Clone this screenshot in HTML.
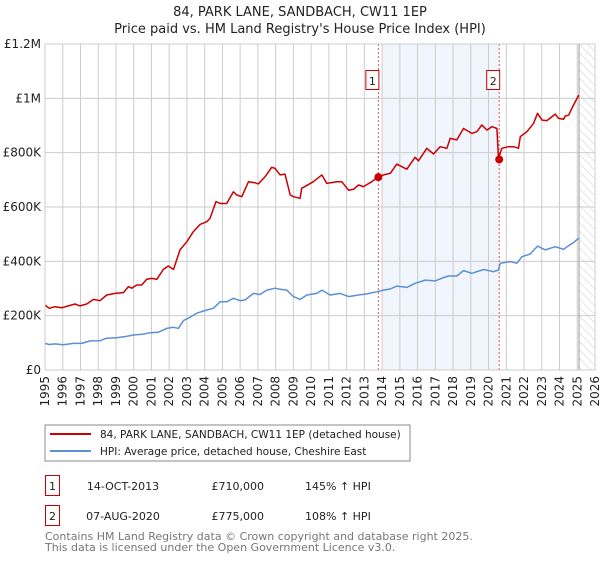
<!DOCTYPE html>
<html><head><meta charset="utf-8"><style>
body{margin:0;background:#fff;font-family:"DejaVu Sans","Liberation Sans",sans-serif;}
svg text{font-family:"DejaVu Sans","Liberation Sans",sans-serif;}
</style></head><body>
<svg id="c" width="600" height="560" xmlns="http://www.w3.org/2000/svg">
<defs><pattern id="hatch" width="6" height="6" patternUnits="userSpaceOnUse" patternTransform="rotate(-45)"><line x1="0" y1="0" x2="0" y2="6" stroke="#ccc" stroke-width="1"/></pattern></defs>
<text x="300" y="16" text-anchor="middle" font-size="13" fill="#222">84, PARK LANE, SANDBACH, CW11 1EP</text>
<text x="300" y="33" text-anchor="middle" font-size="13" fill="#222">Price paid vs. HM Land Registry's House Price Index (HPI)</text>
<g id="plot"></g>
<rect x="45" y="425" width="365" height="36" fill="#fff" stroke="#888"/>
<line x1="50" y1="434" x2="91" y2="434" stroke="#cc0000" stroke-width="2"/>
<text x="100" y="438" font-size="10.5" fill="#222">84, PARK LANE, SANDBACH, CW11 1EP (detached house)</text>
<line x1="50" y1="451" x2="91" y2="451" stroke="#5b8fd6" stroke-width="2"/>
<text x="100" y="455" font-size="10.5" fill="#222">HPI: Average price, detached house, Cheshire East</text>
<rect x="45.5" y="475.5" width="14" height="20" fill="#fff" stroke="#cc0000"/>
<text x="52.5" y="490" text-anchor="middle" font-size="11" fill="#222">1</text>
<text x="123" y="490" text-anchor="middle" font-size="11" fill="#222">14-OCT-2013</text>
<text x="264" y="490" text-anchor="end" font-size="11" fill="#222">£710,000</text>
<text x="305" y="490" font-size="11" fill="#222">145% ↑ HPI</text>
<rect x="45.5" y="505.5" width="14" height="20" fill="#fff" stroke="#cc0000"/>
<text x="52.5" y="520" text-anchor="middle" font-size="11" fill="#222">2</text>
<text x="123" y="520" text-anchor="middle" font-size="11" fill="#222">07-AUG-2020</text>
<text x="264" y="520" text-anchor="end" font-size="11" fill="#222">£775,000</text>
<text x="305" y="520" font-size="11" fill="#222">108% ↑ HPI</text>
<text x="45" y="540" font-size="11" fill="#777">Contains HM Land Registry data © Crown copyright and database right 2025.</text>
<text x="45" y="551" font-size="11" fill="#777">This data is licensed under the Open Government Licence v3.0.</text>
</svg>
<script>
const redYears=[1995.00,1995.24,1995.56,1995.94,1996.32,1996.69,1996.97,1997.35,1997.73,1998.10,1998.48,1998.95,1999.42,1999.70,1999.89,2000.17,2000.45,2000.73,2001.02,2001.30,2001.67,2001.95,2002.24,2002.61,2002.99,2003.36,2003.74,2004.12,2004.30,2004.64,2004.87,2005.24,2005.62,2005.81,2006.09,2006.47,2006.84,2007.03,2007.41,2007.78,2007.97,2008.25,2008.53,2008.82,2009.00,2009.38,2009.47,2010.13,2010.60,2010.88,2011.45,2011.73,2012.11,2012.39,2012.67,2012.95,2013.42,2013.74,2014.08,2014.46,2014.83,2015.39,2015.86,2016.05,2016.52,2016.90,2017.27,2017.65,2017.84,2018.21,2018.59,2019.06,2019.34,2019.62,2019.91,2020.19,2020.47,2020.56,2020.75,2021.13,2021.41,2021.69,2021.79,2022.16,2022.54,2022.76,2023.01,2023.29,2023.76,2023.95,2024.23,2024.32,2024.51,2024.79,2025.08];
const redValues=[239,227,233,229,236,243,236,243,260,255,276,282,285,307,301,313,313,334,337,334,370,383,370,442,472,509,536,546,558,620,613,613,656,644,638,693,689,685,712,746,742,718,721,644,638,632,669,693,718,687,693,693,662,665,681,675,693,709,718,724,758,739,783,770,816,795,822,816,853,847,889,871,877,902,883,896,889,779,816,822,822,816,859,877,908,945,920,918,942,926,923,935,938,975,1012];
const hpiYears=[1995.00,1995.24,1995.56,1996.03,1996.60,1997.07,1997.54,1998.10,1998.48,1999.04,1999.51,1999.98,2000.55,2000.92,2001.39,2001.86,2002.24,2002.52,2002.80,2003.18,2003.55,2004.12,2004.49,2004.87,2005.24,2005.62,2006.00,2006.28,2006.75,2007.12,2007.50,2007.97,2008.25,2008.63,2009.00,2009.38,2009.76,2010.32,2010.60,2011.07,2011.64,2012.11,2012.67,2013.14,2013.70,2014.08,2014.46,2014.83,2015.39,2015.86,2016.43,2016.99,2017.46,2017.74,2018.21,2018.59,2019.06,2019.72,2020.28,2020.56,2020.66,2021.22,2021.60,2021.88,2022.35,2022.76,2023.20,2023.76,2024.23,2024.42,2024.79,2025.08];
const hpiValues=[98,94,96,93,98,98,107,108,117,119,123,129,132,137,139,153,157,153,182,194,209,221,227,251,251,264,255,258,282,278,294,301,297,294,270,260,276,282,294,276,282,270,276,280,288,294,298,309,304,319,331,328,340,346,346,366,356,370,362,368,393,399,393,417,427,456,442,454,444,454,469,485];
const saleYears=[2013.79,2020.60];
const saleValues=[710,775];
const saleLabels=["1","2"];
const yTicks=[0,200,400,600,800,1000,1200];
const yTickLabels=["£0","£200K","£400K","£600K","£800K","£1M","£1.2M"];
const xTicks=[1995,1996,1997,1998,1999,2000,2001,2002,2003,2004,2005,2006,2007,2008,2009,2010,2011,2012,2013,2014,2015,2016,2017,2018,2019,2020,2021,2022,2023,2024,2025,2026];
const shadeRange=[2014.0,2020.6];
const hatchStart=2025.1;

const L=45,R=595,T=44,B=370,X0=1995,X1=2026,YMAX=1200;
const xs=y=>L+(y-X0)/(X1-X0)*(R-L);
const ys=v=>B-v/YMAX*(B-T);
const NS="http://www.w3.org/2000/svg";
const g=document.getElementById('plot');
function mk(tag,attrs,parent){const e=document.createElementNS(NS,tag);for(const k in attrs)e.setAttribute(k,attrs[k]);(parent||g).appendChild(e);return e;}

let e=mk('rect',{x:xs(shadeRange[0]),y:T,width:xs(shadeRange[1])-xs(shadeRange[0]),height:B-T,fill:'#eef3fc',opacity:0.8});


e=mk('rect',{x:xs(hatchStart),y:T,width:R-xs(hatchStart),height:B-T,fill:'url(#hatch)'});


xTicks.forEach(t=>{
 e=mk('line',{x1:xs(t),x2:xs(t),y1:T,y2:B,stroke:'#ccc','stroke-width':1});
 
 
 e=mk('text',{x:0,y:0,'font-size':12,fill:'#222','text-anchor':'end',transform:`translate(${xs(t)+4},${B+6}) rotate(-90)`});
 e.textContent=t;
 
 
});
yTicks.forEach((t,i)=>{
 e=mk('line',{x1:L,x2:R,y1:ys(t),y2:ys(t),stroke:'#ccc','stroke-width':1});
 
 
 e=mk('text',{x:L-4,y:ys(t)+4,'font-size':12,fill:'#222','text-anchor':'end'});
 e.textContent=yTickLabels[i];
 
 
});
e=mk('line',{x1:xs(hatchStart),x2:xs(hatchStart),y1:T,y2:B,stroke:'#999','stroke-width':1});


saleYears.forEach((y,i)=>{
 e=mk('line',{x1:xs(y),x2:xs(y),y1:T,y2:B,stroke:'#e85050','stroke-width':1,'stroke-dasharray':'2,2'});
 
 
});
function path(xa,va,color,name){
 const d=xa.map((x,i)=>(i?'L':'M')+xs(x).toFixed(1)+','+ys(va[i]).toFixed(1)).join('');
 const p=mk('path',{d:d,fill:'none',stroke:color,'stroke-width':1.5,'stroke-linejoin':'round'});
 
 
}
path(hpiYears,hpiValues,'#5b8fd6','hpi-line');
path(redYears,redValues,'#cc0000','property-price-line');
saleYears.forEach((y,i)=>{
 e=mk('circle',{cx:xs(y),cy:ys(saleValues[i]),r:4,fill:'#cc0000'});
 
 
 e=mk('rect',{x:xs(y)-12.5,y:70.5,width:13,height:19,fill:'#fff',stroke:'#cc0000'});
 
 
 e=mk('text',{x:xs(y)-6,y:85,'font-size':11,fill:'#222','text-anchor':'middle'});
 e.textContent=saleLabels[i];
});
e=mk('rect',{x:L,y:T,width:R-L,height:B-T,fill:'none',stroke:'#ccc'});


</script>
</body></html>
